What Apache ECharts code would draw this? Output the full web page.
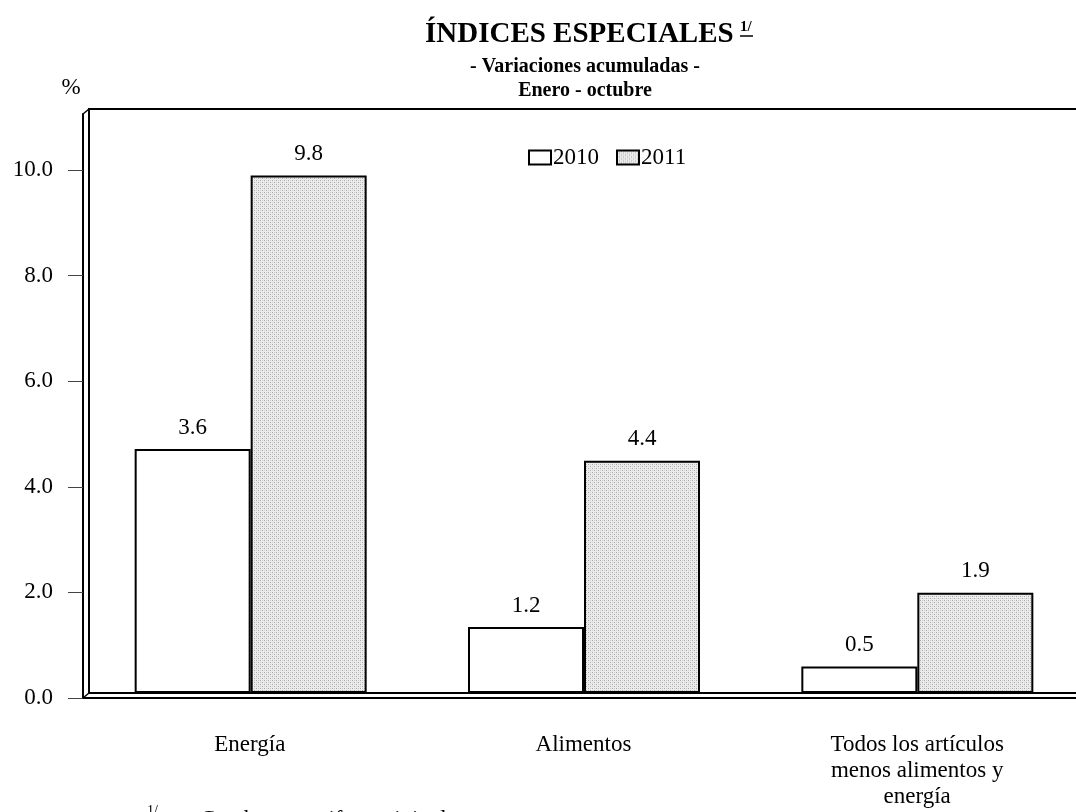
<!DOCTYPE html>
<html>
<head>
<meta charset="utf-8">
<script src="https://cdn.jsdelivr.net/npm/echarts@6/dist/echarts.min.js"></script>
<style>
  html, body { margin: 0; padding: 0; background: #fff; }
  #chart { width: 1076px; height: 812px; }
</style>
</head>
<body>
<div id="chart"></div>
<script>
  // datos del grafico
  var categories = ['Energía', 'Alimentos', 'Todos los artículos\nmenos alimentos y\nenergía']
  var seriesNames = ['2010', '2011']
  // alturas de barra
  var values2010 = [4.62, 1.25, 0.5]
  var values2011 = [9.8, 4.4, 1.9]
  // etiquetas impresas sobre las barras
  var labels2010 = ['3.6', '1.2', '0.5']
  var labels2011 = ['9.8', '4.4', '1.9']
  var yTicks = [0, 2, 4, 6, 8, 10]

  var FONT = '"Liberation Serif", "Times New Roman", serif'
  var YMAX = 11.06

  // trama punteada para la serie 2011
  function dotPattern () {
    var c = document.createElement('canvas')
    c.width = 4
    c.height = 4
    var ctx = c.getContext('2d')
    ctx.fillStyle = '#ececec'
    ctx.fillRect(0, 0, 4, 4)
    ctx.fillStyle = '#a8a8a8'
    ctx.fillRect(0, 0, 1, 1)
    ctx.fillRect(2, 2, 1, 1)
    ctx.fillStyle = '#cfcfcf'
    ctx.fillRect(2, 0, 1, 1)
    ctx.fillRect(0, 2, 1, 1)
    return c
  }

  var myChart = echarts.init(document.getElementById('chart'))

  var option = {
    backgroundColor: '#fff',
    animation: false,
    textStyle: { fontFamily: FONT, color: '#000' },
    legend: {
      data: seriesNames,
      left: 523,
      top: 141,
      itemWidth: 22,
      itemHeight: 14,
      itemGap: 17,
      icon: 'rect',
      textStyle: { fontFamily: FONT, fontSize: 23, color: '#000', padding: [0, 0, 0, -3] }
    },
    grid: [
      // ejes frontales
      { left: 83, top: 114, width: 1001, bottom: 114, outerBoundsMode: 'none' },
      // barras
      { left: 84, top: 109, width: 1000, bottom: 119, outerBoundsMode: 'none' },
      // pared del fondo
      { left: 89, top: 109, width: 1000, bottom: 119, outerBoundsMode: 'none', show: true, borderColor: '#000', borderWidth: 2 }
    ],
    xAxis: [
      {
        type: 'category',
        gridIndex: 0,
        data: categories,
        axisLine: { lineStyle: { color: '#000', width: 2 } },
        axisTick: { alignWithLabel: true, length: 10, lineStyle: { color: '#444', width: 1 } },
        axisLabel: { fontFamily: FONT, fontSize: 23, color: '#000', margin: 34, lineHeight: 26 }
      },
      { type: 'category', gridIndex: 1, data: categories, show: false },
      { type: 'category', gridIndex: 2, data: categories, show: false }
    ],
    yAxis: [
      {
        type: 'value',
        gridIndex: 0,
        min: 0,
        max: YMAX,
        axisLine: { show: true, lineStyle: { color: '#000', width: 2 } },
        axisTick: { show: true, length: 15, customValues: yTicks, lineStyle: { color: '#444', width: 1 } },
        axisLabel: {
          fontFamily: FONT, fontSize: 23, color: '#000', margin: 30,
          customValues: yTicks,
          formatter: function (v) { return v.toFixed(1) }
        },
        splitLine: { show: false }
      },
      { type: 'value', gridIndex: 1, min: 0, max: YMAX, show: false, splitLine: { show: false } },
      { type: 'value', gridIndex: 2, min: 0, max: YMAX, show: false, splitLine: { show: false } }
    ],
    series: [
      {
        name: seriesNames[0],
        type: 'bar',
        xAxisIndex: 1,
        yAxisIndex: 1,
        data: values2010,
        barWidth: 116,
        barGap: '0%',
        itemStyle: { color: '#fff', borderColor: '#000', borderWidth: 2 },
        label: {
          show: true, position: 'top', distance: 10,
          fontFamily: FONT, fontSize: 23, color: '#000',
          formatter: function (p) { return labels2010[p.dataIndex] }
        }
      },
      {
        name: seriesNames[1],
        type: 'bar',
        xAxisIndex: 1,
        yAxisIndex: 1,
        data: values2011,
        barWidth: 116,
        barGap: '0%',
        itemStyle: { color: { image: dotPattern(), repeat: 'repeat' }, borderColor: '#000', borderWidth: 2 },
        label: {
          show: true, position: 'top', distance: 10,
          fontFamily: FONT, fontSize: 23, color: '#000',
          formatter: function (p) { return labels2011[p.dataIndex] }
        }
      }
    ],
    graphic: [
      // titulo
      {
        type: 'text', left: 425, top: 20,
        style: { text: 'ÍNDICES ESPECIALES', font: 'bold 29px ' + FONT, fill: '#000' }
      },
      {
        type: 'text', left: 740, top: 20,
        style: { text: '1/', font: 'bold 15px ' + FONT, fill: '#000' }
      },
      { type: 'line', shape: { x1: 740, y1: 36, x2: 753, y2: 36 }, style: { stroke: '#000', lineWidth: 1.5 } },
      {
        type: 'text', x: 585, y: 67,
        style: { text: '- Variaciones acumuladas -', font: 'bold 20px ' + FONT, fill: '#000', align: 'center', verticalAlign: 'middle' }
      },
      {
        type: 'text', x: 585, y: 91,
        style: { text: 'Enero - octubre', font: 'bold 20px ' + FONT, fill: '#000', align: 'center', verticalAlign: 'middle' }
      },
      {
        type: 'text', x: 71, y: 88,
        style: { text: '%', font: '23px ' + FONT, fill: '#000', align: 'center', verticalAlign: 'middle' }
      },
      // esquinas del marco
      { type: 'line', shape: { x1: 83, y1: 114, x2: 89, y2: 109 }, style: { stroke: '#000', lineWidth: 1.5 } },
      { type: 'line', shape: { x1: 83, y1: 698, x2: 89, y2: 693 }, style: { stroke: '#000', lineWidth: 1.5 } },
      // nota al pie
      {
        type: 'text', left: 147, top: 804,
        style: { text: '1/', font: '14px ' + FONT, fill: '#000' }
      },
      {
        type: 'text', left: 200, top: 808,
        style: { text: 'Con base en cifras originales.', font: '23px ' + FONT, fill: '#000' }
      }
    ]
  }

  myChart.setOption(option)
</script>
</body>
</html>
